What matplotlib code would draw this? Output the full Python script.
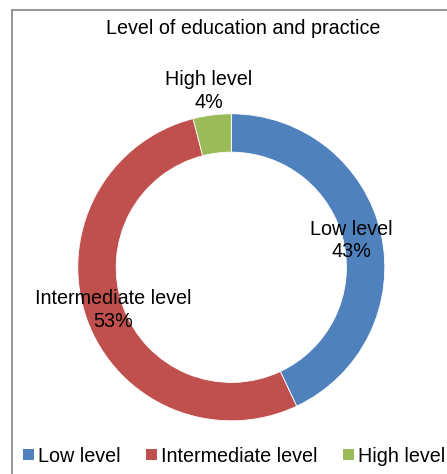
import numpy as np
import matplotlib
matplotlib.use("Agg")
import matplotlib.pyplot as plt
from matplotlib.patches import Rectangle, Patch

plt.rcParams['font.family'] = ['Liberation Sans', 'DejaVu Sans']

categories = ["Low level", "Intermediate level", "High level"]
shares = [43, 53, 4]
colors = ["#4F81BD", "#C0504D", "#9BBB59"]
label_radius = [0.80, 0.82, 1.16]

W, H = 447, 474
fig = plt.figure(figsize=(W / 100, H / 100), dpi=100)
fs = 14.2

# chart-area border (runs off the right and bottom edges)
fig.patches.append(Rectangle((12 / W, -0.1), 1.2, 1 - 10 / H + 0.1,
                             transform=fig.transFigure, fill=False,
                             edgecolor="#8C8C8C", linewidth=1.3))

fig.text(243 / W, 1 - 28 / H, "Level of education and practice",
         ha="center", va="center", fontsize=fs, color="black")

cx, cy, r = 231.3, 267.3, 153.5
ax = fig.add_axes([(cx - r) / W, (H - cy - r) / H, 2 * r / W, 2 * r / H])
wedges, _ = ax.pie(shares, colors=colors, startangle=90, counterclock=False,
                   radius=1.0, wedgeprops=dict(width=0.25, edgecolor="white",
                                               linewidth=0.6))
ax.set_xlim(-1, 1)
ax.set_ylim(-1, 1)
ax.set_axis_off()

for w, name, val, lr in zip(wedges, categories, shares, label_radius):
    mid = np.deg2rad((w.theta1 + w.theta2) / 2)
    ax.text(lr * np.cos(mid), lr * np.sin(mid), f"{name}\n{val}%",
            ha="center", va="center", fontsize=fs, linespacing=1.25,
            clip_on=False)

handles = [Patch(facecolor=c, edgecolor="none") for c in colors]
fig.legend(handles, categories, ncol=3, frameon=False, fontsize=fs,
           loc="center left", bbox_to_anchor=(23 / W, 1 - 456 / H),
           borderpad=0, borderaxespad=0, handlelength=0.55,
           handleheight=0.55, handletextpad=0.2, columnspacing=1.3)

fig.savefig("out.png", dpi=100)
